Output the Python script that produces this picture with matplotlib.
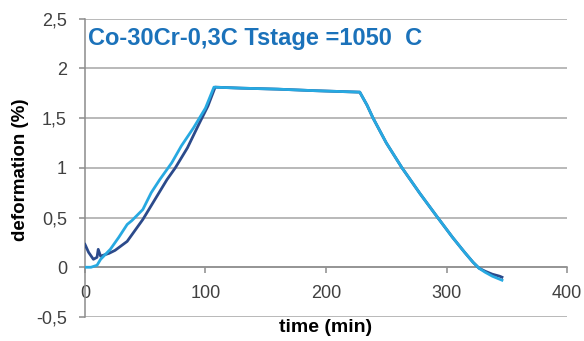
import numpy as np
import matplotlib.pyplot as plt
from matplotlib.ticker import FuncFormatter

# serie oscura
t_dark = [0, 3, 7, 10, 11, 13, 15, 20, 25, 35, 48, 58, 68, 75, 85, 95, 102, 108,
          130, 160, 190, 215, 228, 234, 239, 250, 263, 278, 292, 305, 315, 322,
          327, 332, 338, 344, 346]
d_dark = [0.23, 0.15, 0.08, 0.10, 0.18, 0.11, 0.12, 0.14, 0.17, 0.26, 0.48, 0.68,
          0.88, 1.00, 1.20, 1.45, 1.62, 1.81, 1.80, 1.79, 1.775, 1.765, 1.76, 1.63,
          1.50, 1.25, 1.00, 0.74, 0.51, 0.30, 0.15, 0.05, -0.01, -0.04, -0.07,
          -0.09, -0.10]

# serie clara
t_light = [0, 5, 10, 13, 17, 21, 28, 35, 39, 48, 55, 62, 72, 80, 90, 100, 107,
           130, 160, 190, 215, 228, 234, 239, 250, 263, 278, 292, 305, 315, 322,
           327, 332, 338, 344, 346]
d_light = [0.0, 0.0, 0.02, 0.08, 0.13, 0.18, 0.30, 0.43, 0.47, 0.58, 0.75, 0.88,
           1.05, 1.22, 1.40, 1.60, 1.81, 1.80, 1.79, 1.775, 1.765, 1.76, 1.63,
           1.50, 1.25, 1.00, 0.74, 0.51, 0.30, 0.15, 0.05, -0.01, -0.05, -0.09,
           -0.12, -0.13]

x_ticks = [0, 100, 200, 300, 400]
y_ticks = [-0.5, 0, 0.5, 1, 1.5, 2, 2.5]
title = "Co-30Cr-0,3C Tstage =1050  C"

plt.rcParams['font.family'] = ['Liberation Sans', 'DejaVu Sans']

fig = plt.figure(figsize=(5.84, 3.41), dpi=100)
ax = fig.add_axes([0.1455, 0.0704, 0.8255, 0.8753])

ax.plot(t_dark, d_dark, color='#2B4A8B', lw=2.0, zorder=3)
ax.plot(t_light, d_light, color='#27A9E1', lw=2.0, zorder=4)

ax.set_xlim(0, 400)
ax.set_ylim(-0.5, 2.5)
ax.set_xticks(x_ticks)
ax.set_yticks(y_ticks)

def coma(v, pos):
    s = f'{v:g}'
    return s.replace('.', ',')

ax.yaxis.set_major_formatter(FuncFormatter(coma))
ax.grid(axis='y', color='#A6A6A6', lw=1.1)
ax.set_axisbelow(True)

for s in ['top', 'right']:
    ax.spines[s].set_visible(False)
ax.spines['bottom'].set_position(('data', 0))
ax.spines['bottom'].set_color('#8C8C8C')
ax.spines['left'].set_color('#8C8C8C')
ax.spines['bottom'].set_linewidth(1.1)
ax.spines['left'].set_linewidth(1.1)

ax.tick_params(axis='both', colors='#8C8C8C', labelcolor='#404040',
               labelsize=13, length=4, width=1.1)
ax.tick_params(axis='x', pad=9)
ax.tick_params(axis='y', pad=9)

fig.text(0.558, 1 - 327 / 341, 'time (min)', fontsize=14, fontweight='bold',
         ha='center', va='center')
fig.text(21 / 584, 1 - 170 / 341, 'deformation (%)', fontsize=13.5,
         fontweight='bold', rotation=90, ha='center', va='center')

ax.text(0.006, 0.97, title, transform=ax.transAxes, ha='left', va='top',
        fontsize=17, fontweight='bold', color='#1B72BA')

fig.savefig('out.png', dpi=100)
